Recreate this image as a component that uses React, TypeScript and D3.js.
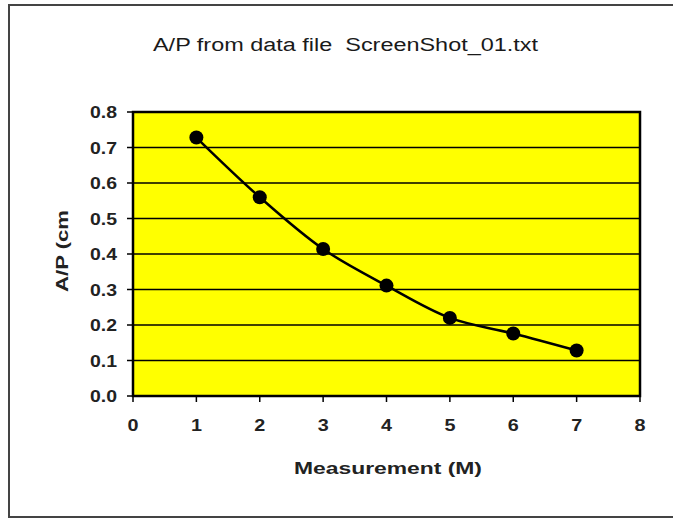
import React from "react";
import * as d3 from "d3";

const measurements = [1, 2, 3, 4, 5, 6, 7];
const apValues = [0.728, 0.56, 0.414, 0.311, 0.22, 0.176, 0.128];
const xTicks = [0, 1, 2, 3, 4, 5, 6, 7, 8];
const yTicks = [0, 0.1, 0.2, 0.3, 0.4, 0.5, 0.6, 0.7, 0.8];
const titleText = "A/P from data file  ScreenShot_01.txt";
const xTitle = "Measurement (M)";
const yTitle = "A/P (cm";

export default function App() {
  const W = 673, H = 520;
  const left = 133, right = 640, top = 112, bottom = 396;
  const x = d3.scaleLinear().domain([0, 8]).range([left, right]);
  const y = d3.scaleLinear().domain([0, 0.8]).range([bottom, top]);
  const pts = measurements.map((m, i) => [x(m), y(apValues[i])] as [number, number]);
  const line = d3.line().curve(d3.curveCatmullRom.alpha(0.5))(pts) || "";
  const font = "Arial, 'Liberation Sans', sans-serif";
  return (
    <svg width={W} height={H} style={{ position: "fixed", left: 0, top: 0, background: "#fff", display: "block" }}>
      <path d={`M${W},5 H9 V517 H${W}`} fill="none" stroke="#444" strokeWidth={2} />
      <text x={345.5} y={51} textAnchor="middle" fontFamily={font} fontSize={18} fill="#1a1a1a"
        textLength={385} lengthAdjust="spacingAndGlyphs" style={{ whiteSpace: "pre" }}>{titleText}</text>
      <rect x={left} y={top} width={right - left} height={bottom - top} fill="#FFFF00" />
      {yTicks.slice(1).map((t) => (
        <line key={"g" + t} x1={left} x2={right} y1={y(t)} y2={y(t)} stroke="#000" strokeWidth={1.5} />
      ))}
      <rect x={left} y={top} width={right - left} height={bottom - top} fill="none" stroke="#000" strokeWidth={2.5} />
      {yTicks.map((t) => (
        <g key={"y" + t}>
          <line x1={left - 6} x2={left} y1={y(t)} y2={y(t)} stroke="#000" strokeWidth={1.5} />
          <text x={117} y={y(t) + 6} textAnchor="end" fontFamily={font} fontSize={16} fontWeight="bold" fill="#222"
            textLength={27} lengthAdjust="spacingAndGlyphs">{t.toFixed(1)}</text>
        </g>
      ))}
      {xTicks.map((t) => (
        <g key={"x" + t}>
          <line x1={x(t)} x2={x(t)} y1={bottom} y2={bottom + 6} stroke="#000" strokeWidth={1.5} />
          <text x={x(t)} y={bottom + 35} textAnchor="middle" fontFamily={font} fontSize={16} fontWeight="bold" fill="#222"
            textLength={11} lengthAdjust="spacingAndGlyphs">{t}</text>
        </g>
      ))}
      <text x={388} y={474} textAnchor="middle" fontFamily={font} fontSize={17} fontWeight="bold" fill="#222"
        textLength={188} lengthAdjust="spacingAndGlyphs">{xTitle}</text>
      <text transform={`translate(68, 251) rotate(-90)`} textAnchor="middle" fontFamily={font} fontSize={17} fontWeight="bold" fill="#222"
        textLength={82} lengthAdjust="spacingAndGlyphs">{yTitle}</text>
      <path d={line} fill="none" stroke="#000" strokeWidth={2.5} />
      {pts.map((p, i) => (
        <circle key={i} cx={p[0]} cy={p[1]} r={7} fill="#000" />
      ))}
    </svg>
  );
}
